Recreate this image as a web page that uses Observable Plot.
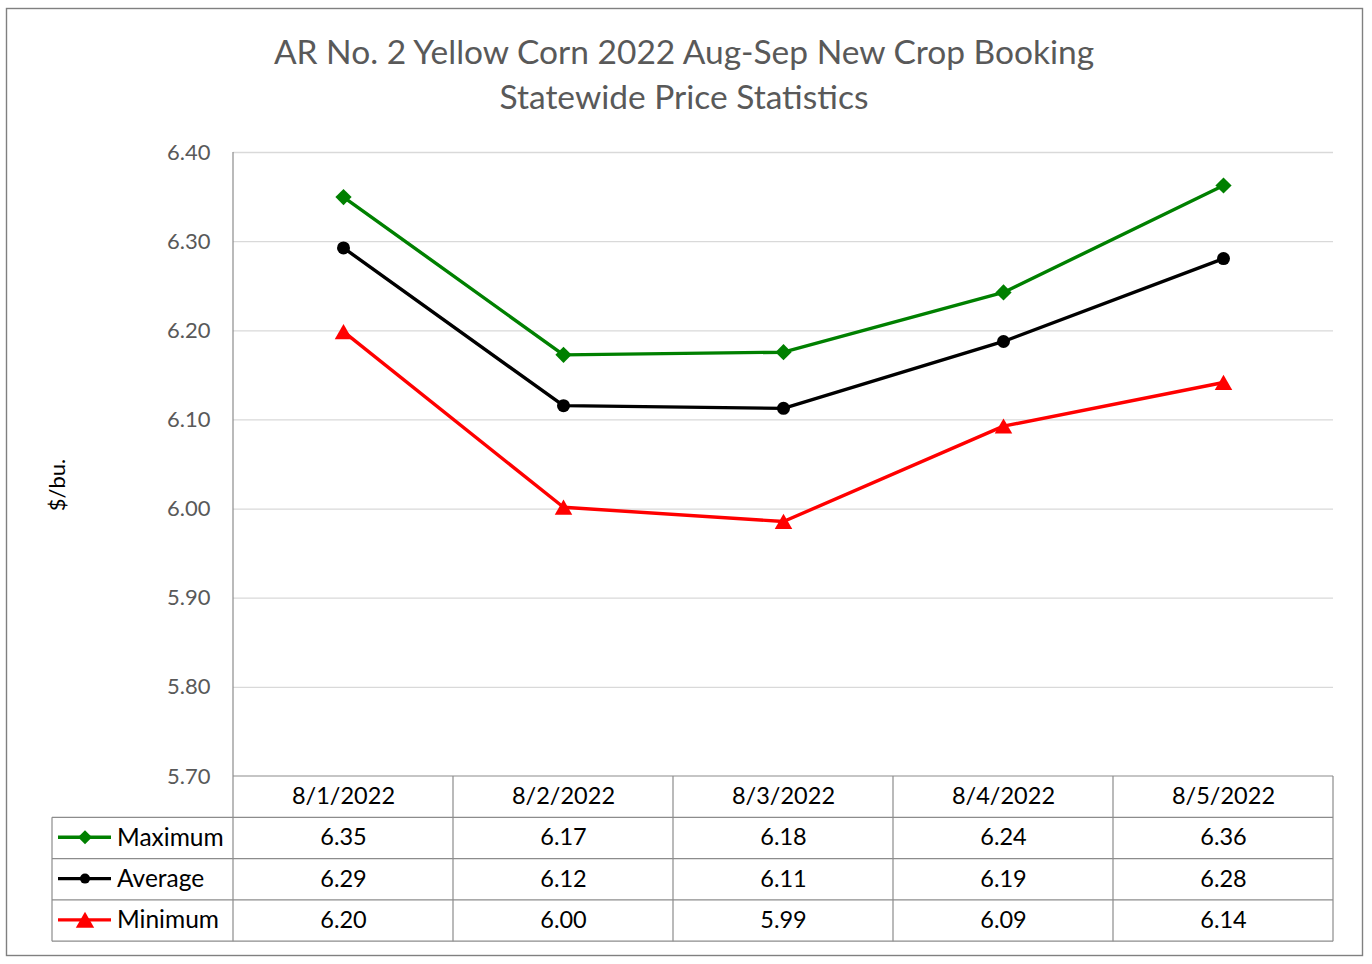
<!DOCTYPE html>
<html><head><meta charset="utf-8">
<script src="https://cdn.jsdelivr.net/npm/d3@7"></script>
<script src="https://cdn.jsdelivr.net/npm/@observablehq/plot@0.6"></script>
<style>body{margin:0;background:#fff} svg{display:block}</style>
</head><body><div id="chart"></div>
<script>
const dates = ["8/1/2022","8/2/2022","8/3/2022","8/4/2022","8/5/2022"];
const maximum = [6.350, 6.173, 6.176, 6.243, 6.363];
const average = [6.293, 6.116, 6.113, 6.188, 6.281];
const minimum = [6.199, 6.002, 5.986, 6.093, 6.142];
const seriesNames = ["Maximum", "Average", "Minimum"];
const seriesColors = ["#008000", "#000000", "#ff0000"];
const seriesSymbols = ["diamond2", "circle", "triangle"];
const yTicks = [5.70, 5.80, 5.90, 6.00, 6.10, 6.20, 6.30, 6.40];
const titleLines = ["AR No. 2 Yellow Corn 2022 Aug-Sep New Crop Booking", "Statewide Price Statistics"];
const yLabel = "$/bu.";

(function () {
const FONT = "Lato, 'Open Sans', sans-serif";
const seriesValues = [maximum, average, minimum];
const rows = [];
seriesNames.forEach((s, i) => dates.forEach((d, j) => rows.push({series: s, date: d, value: seriesValues[i][j], idx: i})));

const rowH = 41.3;
const rowDy = [20, 20 + rowH, 20 + 2 * rowH, 20 + 3 * rowH];
const symR = [7.3, 6.5, 6.5];
const symDy = [0, 0, 2.4];
const TFS = 23.5;

const marks = [
  Plot.ruleY(yTicks.slice(1), {y: d => d, stroke: "#d9d9d9", strokeWidth: 1.3}),
  Plot.axisY(yTicks, {tickSize: 0, tickPadding: 23, tickFormat: d => d.toFixed(2), fontSize: 22, label: null}),
  Plot.text(dates, {x: d => d, text: d => d, frameAnchor: "bottom", lineAnchor: "middle", dy: rowDy[0], fontSize: TFS, fill: "#000"})
];
seriesNames.forEach((s, i) => {
  const data = rows.filter(r => r.series === s);
  marks.push(Plot.line(data, {x: "date", y: "value", stroke: seriesColors[i], strokeWidth: 3.4}));
  marks.push(Plot.dot(data, {x: "date", y: "value", symbol: seriesSymbols[i], fill: seriesColors[i], stroke: "none", r: symR[i], dy: symDy[i]}));
  marks.push(Plot.text(data, {x: "date", text: d => d.value.toFixed(2), frameAnchor: "bottom", lineAnchor: "middle", dy: rowDy[i + 1], fontSize: TFS, fill: "#000"}));
});

const plot = Plot.plot({
  width: 1372, height: 964,
  marginLeft: 233, marginRight: 39, marginTop: 152, marginBottom: 188,
  style: {fontFamily: FONT, color: "#595959", background: "#fff"},
  x: {type: "point", domain: dates, padding: 0.5, axis: null},
  y: {domain: [5.70, 6.40], axis: null},
  marks
});
document.getElementById("chart").appendChild(plot);

const svg = d3.select(plot);
const xs = plot.scale("x"), ys = plot.scale("y");
const step = xs.apply(dates[1]) - xs.apply(dates[0]);
const xLeft = xs.apply(dates[0]) - step / 2;
const xRight = xs.apply(dates[dates.length - 1]) + step / 2;
const yTop = ys.apply(6.40), yBottom = ys.apply(5.70);
const legendLeft = 52;
const lineColor = "#8c8c8c";
svg.insert("rect", ":first-child").attr("x", 6.5).attr("y", 8.5).attr("width", 1356).attr("height", 947)
  .attr("fill", "#fff").attr("stroke", "#808080").attr("stroke-width", 1.4);
const g = svg.append("g").attr("fill", "none").attr("stroke", lineColor).attr("stroke-width", 1.2);
g.append("line").attr("x1", xLeft).attr("x2", xLeft).attr("y1", yTop).attr("y2", yBottom + 4 * rowH);
g.append("line").attr("x1", xLeft).attr("x2", xRight).attr("y1", yBottom).attr("y2", yBottom);
for (let k = 1; k <= 4; k++) {
  g.append("line").attr("x1", legendLeft).attr("x2", xRight).attr("y1", yBottom + k * rowH).attr("y2", yBottom + k * rowH);
}
dates.forEach((d) => {
  const xr = xs.apply(d) + step / 2;
  g.append("line").attr("x1", xr).attr("x2", xr).attr("y1", yBottom).attr("y2", yBottom + 4 * rowH);
});
g.append("line").attr("x1", legendLeft).attr("x2", legendLeft).attr("y1", yBottom + rowH).attr("y2", yBottom + 4 * rowH);
const symbolTypes = {diamond2: d3.symbolDiamond2 || d3.symbolDiamond, circle: d3.symbolCircle, triangle: d3.symbolTriangle};
const legendR = [6.3, 5, 6.8];
seriesNames.forEach((s, i) => {
  const cy = yBottom + rowDy[i + 1];
  svg.append("line").attr("x1", 58).attr("x2", 111).attr("y1", cy).attr("y2", cy)
    .attr("stroke", seriesColors[i]).attr("stroke-width", 3.4);
  svg.append("path").attr("d", d3.symbol(symbolTypes[seriesSymbols[i]], Math.PI * legendR[i] * legendR[i])())
    .attr("transform", `translate(85,${cy + (i === 2 ? 2.5 : 0)})`).attr("fill", seriesColors[i]);
  svg.append("text").attr("x", 117).attr("y", cy).attr("dy", "0.35em").attr("fill", "#000").attr("text-anchor", "start")
    .attr("font-size", 24.5).attr("font-family", FONT).text(s);
});
titleLines.forEach((t, i) => {
  svg.append("text").attr("x", 684).attr("y", 52 + i * 45).attr("dy", "0.35em").attr("text-anchor", "middle")
    .attr("fill", "#595959").attr("font-size", 33.5).attr("font-family", FONT).text(t);
});
svg.append("text").attr("transform", "translate(57,485) rotate(-90)").attr("text-anchor", "middle").attr("dy", "0.35em")
  .attr("fill", "#000").attr("font-size", 22).attr("font-family", FONT).text(yLabel);
})();
</script>
</body></html>
